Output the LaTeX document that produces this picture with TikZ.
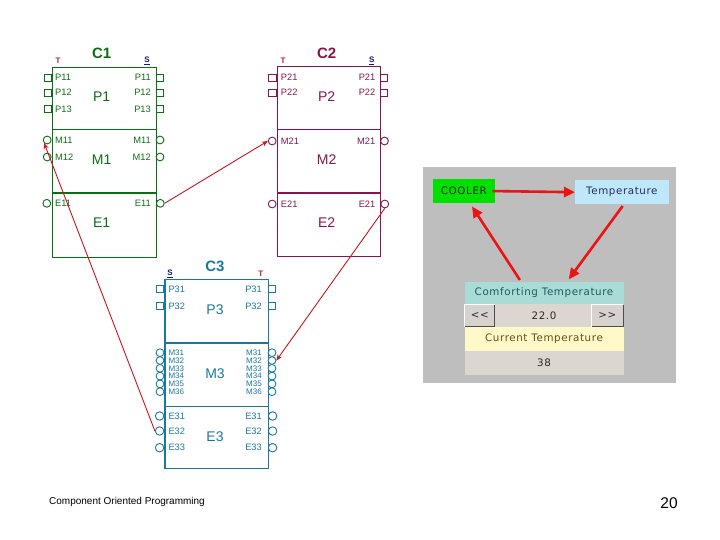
\documentclass[tikz,border=0pt]{standalone}
\usepackage{fontspec}
\setmainfont{Liberation Sans}
\newfontfamily\panelfont[LetterSpace=6]{DejaVu Sans}
\usetikzlibrary{arrows.meta}
\definecolor{cgreen}{RGB}{10,110,20}
\definecolor{cmaroon}{RGB}{135,20,75}
\definecolor{cteal}{RGB}{25,120,160}
\definecolor{tred}{RGB}{200,30,30}
\definecolor{sblue}{RGB}{20,20,140}
\definecolor{linkred}{RGB}{200,20,30}
\definecolor{arrowred}{RGB}{235,20,20}
\definecolor{panelgray}{RGB}{190,190,190}
\definecolor{coolgreen}{RGB}{0,225,0}
\definecolor{tempblue}{RGB}{190,232,250}
\definecolor{comfteal}{RGB}{170,220,215}
\definecolor{btngray}{RGB}{214,210,206}
\definecolor{valbeige}{RGB}{220,214,208}
\definecolor{curyellow}{RGB}{255,248,200}
\begin{document}
\begin{tikzpicture}[x=1pt,y=-1pt,
  box/.style={draw, line width=1.2pt, inner sep=0, anchor=north west},
  sqport/.style={draw, fill=white, line width=1.1pt, rectangle, minimum width=7.5pt, minimum height=7pt, inner sep=0},
  cport/.style={draw, fill=white, line width=0.9pt, circle, minimum size=7.8pt, inner sep=0},
  plab/.style={font=\fontsize{9.3}{9.5}\selectfont, inner sep=0},
  mlab/.style={font=\fontsize{8}{8}\selectfont, inner sep=0},
  seclab/.style={font=\fontsize{14}{14}\selectfont, inner sep=0},
  ctitle/.style={font=\bfseries\fontsize{15}{15}\selectfont, inner sep=0},
  tlab/.style={font=\bfseries\fontsize{8}{8}\selectfont, text=tred, inner sep=0},
  slab/.style={font=\bfseries\fontsize{8}{8}\selectfont, text=sblue, inner sep=0},
  link/.style={draw=linkred, line width=0.9pt, -{Stealth[length=6pt,width=5pt]}},
  pbox/.style={anchor=north west, inner sep=0, font=\panelfont\fontsize{10.3}{11}\selectfont},
  parrow/.style={draw=arrowred, line width=2.6pt, -{Triangle[length=11pt,width=10pt]}},
]
\useasboundingbox (0,0) rectangle (720,540);

% ---------------- C1 ----------------
\node[box, draw=cgreen, minimum width=104pt, minimum height=190pt] (c1) at (51.7,66.7) {};
\draw[cgreen, line width=1.1pt] (51.7,129.3) -- (155.7,129.3);
\draw[cgreen, line width=2.2pt] (51.7,193.3) -- (155.7,193.3);
\node[ctitle, text=cgreen] (c1t) at (101.7,53) {C1};
\node[tlab] (c1T) at (58,61) {T};
\node[slab] (c1S) at (147,61) {\underline{S}};
\node[seclab, text=cgreen] (c1P) at (101.7,97) {P1};
\node[seclab, text=cgreen] (c1M) at (101.7,160) {M1};
\node[seclab, text=cgreen] (c1E) at (101.7,223) {E1};
\foreach \y/\t/\i in {77.7/P11/1, 92.7/P12/2, 109/P13/3}{
  \node[sqport, draw=cgreen] (c1pl\i) at (47.8,\y) {};
  \node[sqport, draw=cgreen] (c1pr\i) at (159.8,\y) {};
  \node[plab, text=cgreen, anchor=west] (c1plt\i) at (55,\y) {\t};
  \node[plab, text=cgreen, anchor=east] (c1prt\i) at (151,\y) {\t};
}
\foreach \y/\t/\i in {140/M11/1, 157/M12/2}{
  \node[cport, draw=cgreen] (c1ml\i) at (47.2,\y) {};
  \node[cport, draw=cgreen] (c1mr\i) at (160,\y) {};
  \node[plab, text=cgreen, anchor=west] (c1mlt\i) at (55,\y) {\t};
  \node[plab, text=cgreen, anchor=east] (c1mrt\i) at (151,\y) {\t};
}
\node[cport, draw=cgreen] (c1el1) at (46.8,203.3) {};
\node[cport, draw=cgreen] (c1er1) at (160.3,203.3) {};
\node[plab, text=cgreen, anchor=west] (c1elt1) at (55,203.3) {E11};
\node[plab, text=cgreen, anchor=east] (c1ert1) at (151,203.3) {E11};

% ---------------- C2 ----------------
\node[box, draw=cmaroon, minimum width=103.3pt, minimum height=190pt] (c2) at (276.7,66) {};
\draw[cmaroon, line width=1.1pt] (276.7,129.3) -- (380,129.3);
\draw[cmaroon, line width=2.2pt] (276.7,193.3) -- (380,193.3);
\node[ctitle, text=cmaroon] (c2t) at (326.7,53.3) {C2};
\node[tlab] (c2T) at (283,61) {T};
\node[slab] (c2S) at (371.7,61) {\underline{S}};
\node[seclab, text=cmaroon] (c2P) at (326.7,97) {P2};
\node[seclab, text=cmaroon] (c2M) at (326.7,160) {M2};
\node[seclab, text=cmaroon] (c2E) at (326.7,222.7) {E2};
\foreach \y/\t/\i in {77.7/P21/1, 92.7/P22/2}{
  \node[sqport, draw=cmaroon] (c2pl\i) at (272.6,\y) {};
  \node[sqport, draw=cmaroon] (c2pr\i) at (384.1,\y) {};
  \node[plab, text=cmaroon, anchor=west] (c2plt\i) at (280.7,\y) {\t};
  \node[plab, text=cmaroon, anchor=east] (c2prt\i) at (375.5,\y) {\t};
}
\node[cport, draw=cmaroon] (c2ml1) at (272.2,141) {};
\node[cport, draw=cmaroon] (c2mr1) at (384.5,141) {};
\node[plab, text=cmaroon, anchor=west] (c2mlt1) at (280.7,141) {M21};
\node[plab, text=cmaroon, anchor=east] (c2mrt1) at (375.5,141) {M21};
\node[cport, draw=cmaroon] (c2el1) at (272.2,204) {};
\node[cport, draw=cmaroon] (c2er1) at (384.8,204) {};
\node[plab, text=cmaroon, anchor=west] (c2elt1) at (280.7,204) {E21};
\node[plab, text=cmaroon, anchor=east] (c2ert1) at (375.5,204) {E21};

% ---------------- C3 ----------------
\node[box, draw=cteal, minimum width=103.7pt, minimum height=189pt] (c3) at (164.3,279) {};
\draw[cteal, line width=2.2pt] (164.3,342.7) -- (268,342.7);
\draw[cteal, line width=1.1pt] (164.3,406.7) -- (268,406.7);
\node[ctitle, text=cteal] (c3t) at (215,266.7) {C3};
\node[slab] (c3S) at (170,273.7) {\underline{S}};
\node[tlab] (c3T) at (260.7,273.7) {T};
\node[seclab, text=cteal] (c3P) at (215,310) {P3};
\node[seclab, text=cteal] (c3M) at (215,373.3) {M3};
\node[seclab, text=cteal] (c3E) at (215,436.7) {E3};
\foreach \y/\t/\i in {289/P31/1, 306/P32/2}{
  \node[sqport, draw=cteal] (c3pl\i) at (160.2,\y) {};
  \node[sqport, draw=cteal] (c3pr\i) at (272.1,\y) {};
  \node[plab, text=cteal, anchor=west] (c3plt\i) at (168.3,\y) {\t};
  \node[plab, text=cteal, anchor=east] (c3prt\i) at (262,\y) {\t};
}
\foreach \y/\t/\i in {352.7/M31/1, 360.5/M32/2, 368.3/M33/3, 376.1/M34/4, 383.9/M35/5, 391.7/M36/6}{
  \node[cport, draw=cteal] (c3ml\i) at (160,\y) {};
  \node[cport, draw=cteal] (c3mr\i) at (272,\y) {};
  \node[mlab, text=cteal, anchor=west] (c3mlt\i) at (168.3,\y) {\t};
  \node[mlab, text=cteal, anchor=east] (c3mrt\i) at (262,\y) {\t};
}
\foreach \y/\t/\i in {416/E31/1, 431/E32/2, 447.7/E33/3}{
  \node[cport, draw=cteal, minimum size=8.5pt] (c3el\i) at (159.6,\y) {};
  \node[cport, draw=cteal, minimum size=8.5pt] (c3er\i) at (272.6,\y) {};
  \node[plab, text=cteal, anchor=west] (c3elt\i) at (168.3,\y) {\t};
  \node[plab, text=cteal, anchor=east] (c3ert\i) at (262,\y) {\t};
}

% ---------------- links ----------------
\draw[link] (c1er1.east) -- (c2ml1.west);
\draw[link] (c3el2.west) -- (c1ml1.south west);
\draw[link] (c2er1.south) -- (c3mr2.east);

% ---------------- panel ----------------
\fill[panelgray] (423.3,167.3) rectangle (676,382.7);
\node[pbox, fill=coolgreen, text={rgb,255:red,30;green,40;blue,30}, minimum width=62.7pt, minimum height=23.7pt] (cooler) at (432.3,179) {COOLER};
\node[pbox, fill=tempblue, text={rgb,255:red,40;green,40;blue,100}, minimum width=93.3pt, minimum height=24pt] (temp) at (575,180) {Temperature};
\node[pbox, fill=comfteal, text={rgb,255:red,30;green,90;blue,90}, minimum width=159pt, minimum height=22.3pt] (comf) at (464.3,281.7) {Comforting Temperature};
\node[pbox, fill=valbeige, text={rgb,255:red,40;green,40;blue,40}, minimum width=159pt, minimum height=22.7pt] (val) at (464.3,304) {22.0};
\node[pbox, fill=btngray, text={rgb,255:red,40;green,40;blue,40}, minimum width=30.7pt, minimum height=22.7pt] (dec) at (464.3,304) {<<};
\node[pbox, fill=btngray, text={rgb,255:red,40;green,40;blue,40}, minimum width=32.3pt, minimum height=22.7pt] (inc) at (591,304) {>>};
\foreach \b in {dec,inc}{
  \draw[white, line width=1pt] ([shift={(0.5,-0.5)}]\b.south west) -- ([shift={(0.5,0.5)}]\b.north west) -- ([shift={(-0.5,0.5)}]\b.north east);
  \draw[gray!60!black, line width=1pt] ([shift={(-0.5,0.5)}]\b.north east) -- ([shift={(-0.5,-0.5)}]\b.south east) -- ([shift={(0.5,-0.5)}]\b.south west);
}
\node[pbox, fill=curyellow, text={rgb,255:red,100;green,80;blue,20}, minimum width=159pt, minimum height=24pt] (cur) at (464.3,326.7) {Current Temperature};
\node[pbox, fill=valbeige, text={rgb,255:red,40;green,40;blue,40}, minimum width=159pt, minimum height=24.3pt] (now) at (464.3,350.7) {38};

\draw[parrow] ([xshift=-3pt]cooler.east) -- (temp.west);
\draw[parrow, shorten <=2pt, shorten >=3pt] ([xshift=2pt]temp.south) -- ([xshift=23pt]comf.north);
\draw[parrow, shorten <=2pt, shorten >=4pt] ([xshift=-23pt]comf.north) -- ([xshift=6pt]cooler.south);

% ---------------- footer ----------------
\node[anchor=west, inner sep=0, font=\fontsize{10}{10}\selectfont] (foot) at (49,502) {Component Oriented Programming};
\node[inner sep=0, font=\fontsize{15.5}{16}\selectfont] (pageno) at (669,503) {20};
\end{tikzpicture}
\end{document}
